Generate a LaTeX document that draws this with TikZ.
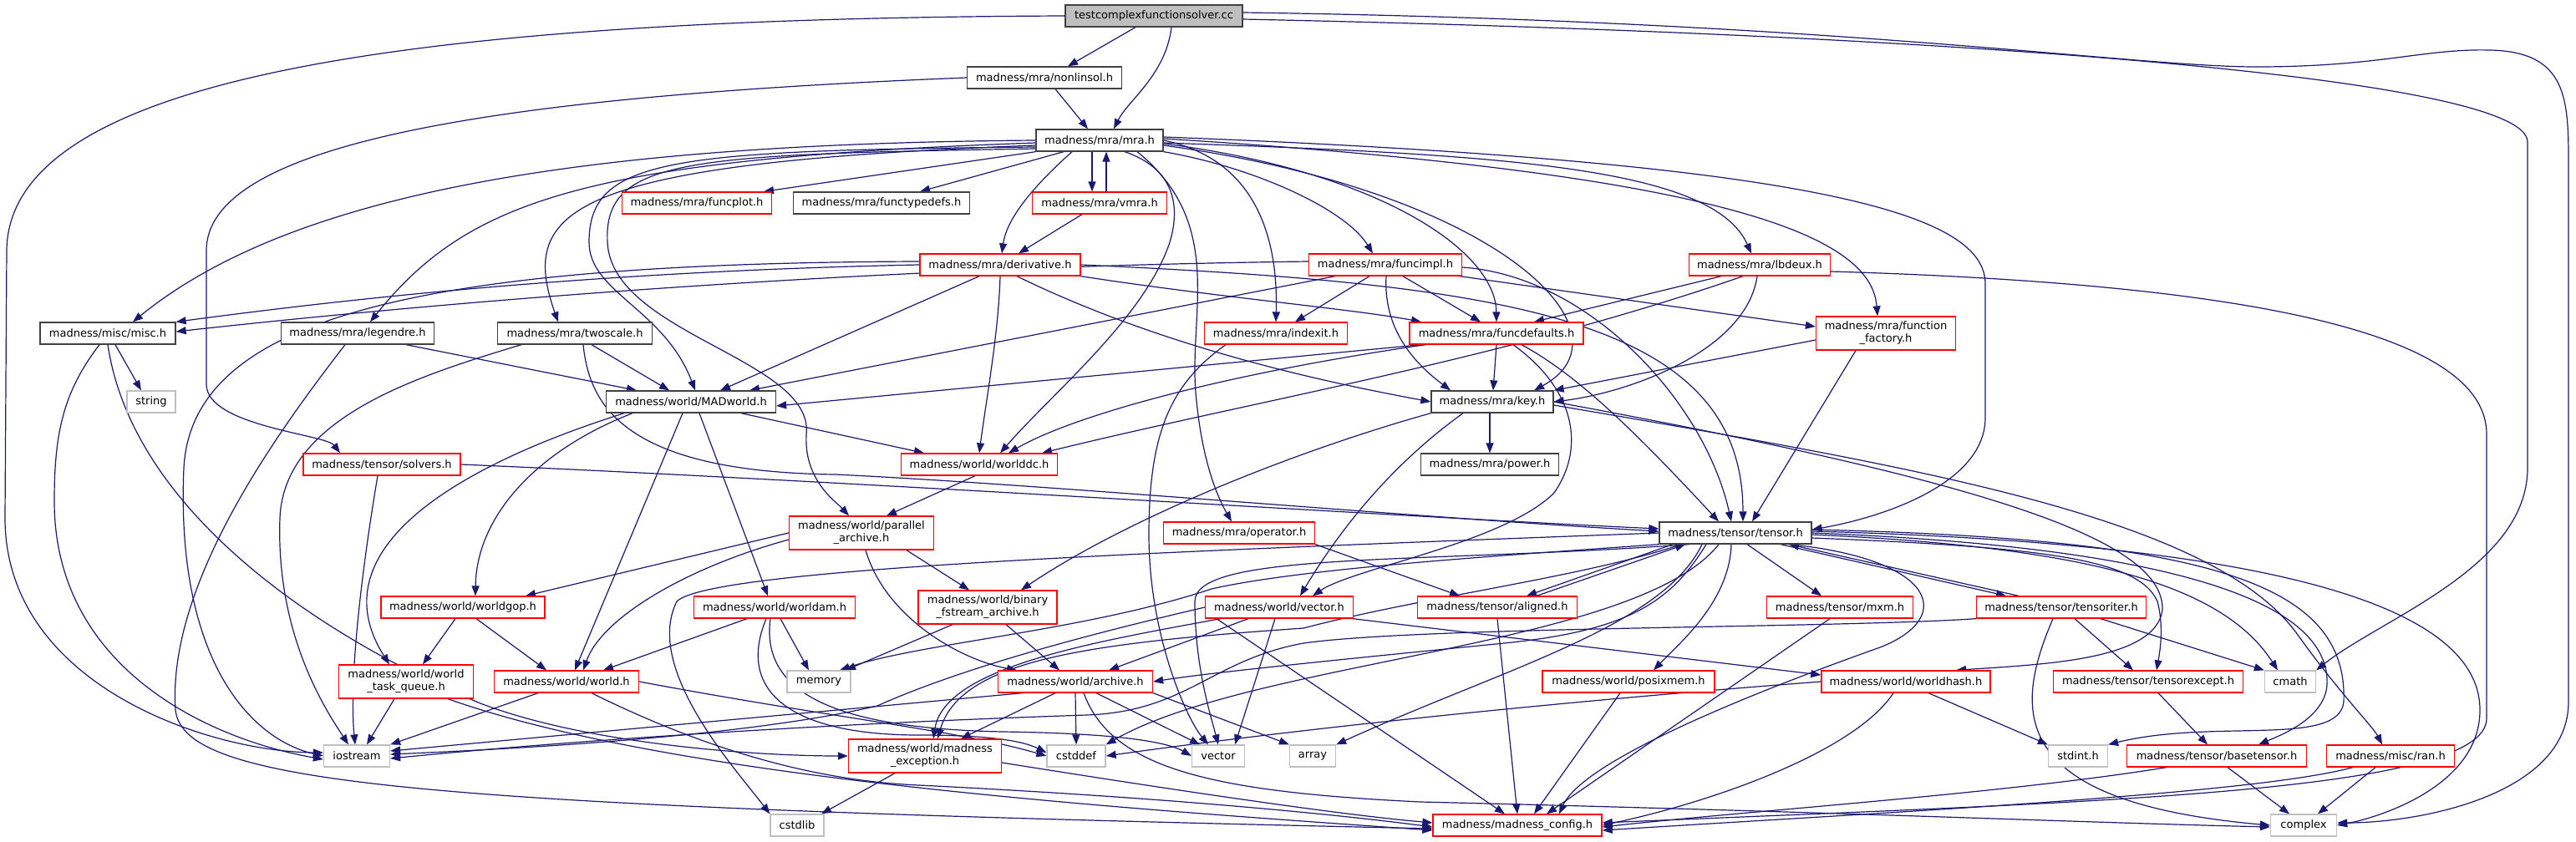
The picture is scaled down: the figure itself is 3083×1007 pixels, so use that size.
\documentclass[tikz,border=0pt]{standalone}
\usepackage{fontspec}
\newfontfamily\dvs{DejaVu Sans}
\usetikzlibrary{arrows.meta}
\pgfdeclarelayer{back}
\pgfdeclarelayer{bg}
\pgfsetlayers{back,bg,main}
\definecolor{edgec}{HTML}{191970}
\definecolor{redc}{HTML}{FF0000}
\definecolor{blkc}{HTML}{404040}
\definecolor{gryc}{HTML}{BFBFBF}
\begin{document}
\begin{tikzpicture}[x=1pt,y=-1pt,
  nb/.style={draw, rectangle, inner sep=0pt, minimum height=26pt, line width=1.3pt, font=\dvs\fontsize{13}{15}\selectfont, align=center, fill=white, text=black},
  rd/.style={nb, draw=redc},
  bk/.style={nb, draw=blkc},
  gy/.style={nb, draw=gryc},
  rt/.style={nb, draw=blkc, fill=gryc},
  wd/.style={minimum width=#1pt},
  tall/.style={minimum height=40pt},
  edg/.style={draw=edgec, line width=1.2pt, -{Triangle[length=12pt,width=9pt]}},
]
\useasboundingbox (0,0) rectangle (3083,1007);
\begin{pgfonlayer}{back}
\fill[white] (0,0) rectangle (3083,1007);
\end{pgfonlayer}

% ---------------- nodes ----------------
\node[rt,wd=212] (T) at (1381,19) {testcomplexfunctionsolver.cc};
\node[bk,wd=185] (nonlin) at (1250,93) {madness/mra/nonlinsol.h};
\node[bk,wd=152] (mra) at (1316,168) {madness/mra/mra.h};
\node[rd,wd=179] (funcplot) at (834,243) {madness/mra/funcplot.h};
\node[bk,wd=211] (functype) at (1055,243) {madness/mra/functypedefs.h};
\node[rd,wd=161] (vmra) at (1316,243) {madness/mra/vmra.h};
\node[rd,wd=192] (deriv) at (1197,317) {madness/mra/derivative.h};
\node[rd,wd=183] (funcimpl) at (1658,317) {madness/mra/funcimpl.h};
\node[rd,wd=169] (lbdeux) at (2106,317) {madness/mra/lbdeux.h};
\node[bk,wd=162] (misc) at (129,399) {madness/misc/misc.h};
\node[bk,wd=183] (legendre) at (428,399) {madness/mra/legendre.h};
\node[bk,wd=185] (twoscale) at (688,399) {madness/mra/twoscale.h};
\node[rd,wd=171] (indexit) at (1527,399) {madness/mra/indexit.h};
\node[rd,wd=208] (funcdef) at (1791,399) {madness/mra/funcdefaults.h};
\node[rd,wd=167,tall] (factory) at (2257,399) {madness/mra/function\\\_factory.h};
\node[gy,wd=58] (string) at (181,481) {string};
\node[bk,wd=203] (madworld) at (827,481) {madness/world/MADworld.h};
\node[bk,wd=146] (key) at (1786,481) {madness/mra/key.h};
\node[rd,wd=188] (solvers) at (457,556) {madness/tensor/solvers.h};
\node[rd,wd=187] (worlddc) at (1172,556) {madness/world/worlddc.h};
\node[bk,wd=165] (power) at (1783,556) {madness/mra/power.h};
\node[rd,wd=173,tall] (parallel) at (1031,638) {madness/world/parallel\\\_archive.h};
\node[rd,wd=181] (operator) at (1483,638) {madness/mra/operator.h};
\node[bk,wd=182] (tensor) at (2077,638) {madness/tensor/tensor.h};
\node[rd,wd=196] (worldgop) at (554,727) {madness/world/worldgop.h};
\node[rd,wd=193] (worldam) at (927,727) {madness/world/worldam.h};
\node[rd,wd=166,tall] (binary) at (1182,727) {madness/world/binary\\\_fstream\_archive.h};
\node[rd,wd=177] (wvector) at (1531,727) {madness/world/vector.h};
\node[rd,wd=191] (aligned) at (1792,727) {madness/tensor/aligned.h};
\node[rd,wd=175] (mxm) at (2202,727) {madness/tensor/mxm.h};
\node[rd,wd=203] (tensoriter) at (2467,727) {madness/tensor/tensoriter.h};
\node[rd,wd=161,tall] (taskq) at (486,816) {madness/world/world\\\_task\_queue.h};
\node[rd,wd=173] (world) at (678,816) {madness/world/world.h};
\node[gy,wd=76] (memory) at (980,816) {memory};
\node[rd,wd=185] (archive) at (1287,816) {madness/world/archive.h};
\node[rd,wd=206] (posixmem) at (1949,816) {madness/world/posixmem.h};
\node[rd,wd=202] (worldhash) at (2281,816) {madness/world/worldhash.h};
\node[rd,wd=227] (tensorexcept) at (2571,816) {madness/tensor/tensorexcept.h};
\node[gy,wd=61] (cmath) at (2741,816) {cmath};
\node[gy,wd=79] (iostream) at (427,905) {iostream};
\node[rd,wd=183,tall] (mexc) at (1107,905) {madness/world/madness\\\_exception.h};
\node[gy,wd=70] (cstddef) at (1288,905) {cstddef};
\node[gy,wd=63] (vector) at (1458,905) {vector};
\node[gy,wd=55] (array) at (1571,905) {array};
\node[gy,wd=71] (stdint) at (2487,905) {stdint.h};
\node[rd,wd=215] (basetensor) at (2653,905) {madness/tensor/basetensor.h};
\node[rd,wd=153] (ran) at (2861,905) {madness/misc/ran.h};
\node[gy,wd=64] (cstdlib) at (954,988) {cstdlib};
\node[rd,wd=202] (config) at (1816,988) {madness/madness\_config.h};
\node[gy,wd=79] (complex) at (2757,988) {complex};

% ---------------- edges ----------------
\begin{pgfonlayer}{bg}
% root
\draw[edg] ([xshift=-22pt]T.south) -- ([xshift=28pt]nonlin.north);
\draw[edg] ([xshift=21pt]T.south) .. controls (1395,90) and (1350,120) .. ([xshift=17pt]mra.north);
\draw[edg] (T.west) .. controls (500,22) and (10,90) .. (8,300) -- (6,620) .. controls (6,820) and (250,900) .. ([yshift=4pt]iostream.west);
\draw[edg] ([yshift=4pt]T.east) .. controls (2200,25) and (2550,80) .. (2700,80) .. controls (2850,80) and (2900,58) .. (2980,60) .. controls (3074,62) and (3074,120) .. (3074,200) -- (3074,840) .. controls (3074,950) and (2900,985) .. ([yshift=3pt]complex.east);
\draw[edg] ([yshift=-4pt]T.east) .. controls (2300,40) and (3025,90) .. (3025,170) -- (3025,560) .. controls (3025,680) and (2850,740) .. (cmath.north east);
% nonlinsol
\draw[edg] ([xshift=13pt]nonlin.south) -- ([xshift=-14pt]mra.north);
\draw[edg] (nonlin.west) .. controls (600,115) and (247,170) .. (247,300) -- (247,460) .. controls (247,510) and (390,520) .. ([xshift=-50pt]solvers.north);
% mra
\draw[edg] (mra.south west) -- ([xshift=80pt]funcplot.north);
\draw[edg] ([xshift=-43pt]mra.south) -- ([xshift=46pt]functype.north);
\draw[edg] ([xshift=-9pt]mra.south) -- ([xshift=-9pt]vmra.north);
\draw[edg] ([xshift=8pt]vmra.north) -- ([xshift=8pt]mra.south);
\draw[edg] ([xshift=-33pt]mra.south) .. controls (1240,220) and (1205,260) .. ([xshift=2pt]deriv.north);
\draw[edg] ([xshift=-21pt]vmra.south) -- ([xshift=22pt]deriv.north);
\draw[edg] (mra.south east) .. controls (1500,200) and (1610,250) .. ([xshift=-15pt]funcimpl.north);
\draw[edg] ([yshift=-3pt]mra.east) .. controls (1800,185) and (2050,200) .. ([xshift=-10pt]lbdeux.north);
\draw[edg] (mra.west) .. controls (700,172) and (350,230) .. ([xshift=30pt]misc.north);
\draw[edg] ([yshift=-3pt]mra.west) .. controls (700,190) and (560,240) .. ([xshift=15pt]legendre.north);
\draw[edg] ([yshift=-6pt]mra.west) .. controls (680,195) and (620,250) .. ([xshift=-20pt]twoscale.north);
\draw[edg] ([yshift=-8pt]mra.west) .. controls (800,180) and (705,190) .. (705,290) .. controls (705,350) and (795,370) .. ([xshift=5pt]madworld.north);
\draw[edg] ([yshift=-10pt]mra.west) .. controls (820,185) and (722,190) .. (727,290) .. controls (732,400) and (975,430) .. (965,520) .. controls (962,575) and (1000,600) .. ([xshift=-15pt]parallel.north);
\draw[edg] (mra.east) .. controls (1500,190) and (1530,280) .. (indexit.north);
\draw[edg] ([yshift=-4pt]mra.east) .. controls (1650,205) and (1790,300) .. (funcdef.north);
\draw[edg] ([yshift=2pt]mra.east) .. controls (2100,210) and (2240,290) .. ([xshift=-10pt]factory.north);
\draw[edg] ([yshift=-6pt]mra.east) .. controls (1800,230) and (1960,400) .. ([xshift=50pt]key.north);
\draw[edg] ([xshift=30pt]mra.south) .. controls (1400,200) and (1415,240) .. (1400,290) .. controls (1370,380) and (1260,470) .. ([xshift=25pt]worlddc.north);
\draw[edg] ([xshift=45pt]mra.south) .. controls (1470,270) and (1420,380) .. (1432,480) .. controls (1440,560) and (1460,600) .. ([xshift=-9pt]operator.north);
\draw[edg] ([yshift=4pt]mra.east) .. controls (2200,195) and (2376,260) .. (2376,340) -- (2376,500) .. controls (2376,580) and (2250,620) .. ([yshift=4pt]tensor.east);
% derivative
\draw[edg] (deriv.west) .. controls (700,325) and (400,360) .. (misc.north east);
\draw[edg] ([xshift=-25pt]deriv.south) -- ([xshift=35pt]madworld.north);
\draw[edg] (deriv.south) .. controls (1195,400) and (1180,480) .. (worlddc.north);
\draw[edg] ([xshift=20pt]deriv.south) .. controls (1400,420) and (1600,460) .. (key.west);
\draw[edg] (deriv.south east) .. controls (1450,355) and (1620,370) .. ([xshift=-90pt]funcdef.north);
\draw[edg] (deriv.east) .. controls (1800,340) and (2086,380) .. ([xshift=9pt]tensor.north);
\draw[edg] ([yshift=4pt]deriv.west) .. controls (500,315) and (230,380) .. (220,560) .. controls (210,790) and (300,885) .. (iostream.west);
% funcimpl
\draw[edg] ([yshift=4pt]funcimpl.west) .. controls (1000,320) and (500,365) .. ([yshift=2pt]misc.east);
\draw[edg] ([xshift=-60pt]funcimpl.south) -- ([xshift=70pt]madworld.north);
\draw[edg] ([xshift=-19pt]funcimpl.south) -- ([xshift=23pt]indexit.north);
\draw[edg] ([xshift=21pt]funcimpl.south) -- ([xshift=-19pt]funcdef.north);
\draw[edg] ([xshift=1pt]funcimpl.south) .. controls (1655,400) and (1700,440) .. ([xshift=-50pt]key.north);
\draw[edg] ([xshift=89pt]funcimpl.south) -- ([yshift=8pt]factory.west);
\draw[edg] ([yshift=-3pt]funcimpl.east) .. controls (1900,330) and (2040,480) .. ([xshift=-5pt]tensor.north);
% lbdeux
\draw[edg] ([xshift=-46pt]lbdeux.south) -- ([xshift=45pt]funcdef.north);
\draw[edg] ([xshift=-3pt]lbdeux.south) .. controls (2090,420) and (1950,470) .. (key.east);
\draw[edg] ([xshift=-20pt]lbdeux.south) .. controls (1800,430) and (1500,480) .. ([xshift=75pt]worlddc.north);
\draw[edg] ([yshift=-8pt]lbdeux.east) .. controls (2700,340) and (2976,400) .. (2976,520) -- (2976,860) .. controls (2976,950) and (2500,960) .. ([yshift=3pt]config.east);
% misc
\draw[edg] ([xshift=9pt]misc.south) -- ([xshift=-12pt]string.north);
\draw[edg] ([xshift=-10pt]misc.south) .. controls (75,470) and (65,520) .. (65,600) .. controls (65,800) and (250,885) .. ([yshift=-4pt]iostream.west);
\draw[edg] (misc.south) .. controls (160,620) and (400,770) .. (575,842) .. controls (700,890) and (900,905) .. (mexc.west);
% legendre
\draw[edg] ([xshift=58pt]legendre.south) -- ([xshift=-65pt]madworld.north);
\draw[edg] ([xshift=-15pt]legendre.south) .. controls (330,520) and (200,700) .. (210,850) .. controls (220,940) and (500,965) .. ([yshift=-4pt]config.west);
% twoscale
\draw[edg] ([xshift=20pt]twoscale.south) -- ([xshift=-26pt]madworld.north);
\draw[edg] ([xshift=10pt]twoscale.south) .. controls (705,480) and (740,565) .. (1000,568) .. controls (1250,580) and (1700,620) .. ([yshift=2pt]tensor.west);
\draw[edg] ([xshift=-64pt]twoscale.south) .. controls (500,450) and (340,500) .. (335,620) .. controls (330,760) and (390,850) .. ([xshift=-10pt]iostream.north);
% indexit
\draw[edg] ([xshift=-60pt]indexit.south) .. controls (1400,460) and (1375,520) .. (1375,640) .. controls (1375,760) and (1420,860) .. ([xshift=-12pt]vector.north);
% funcdefaults
\draw[edg] ([xshift=-90pt]funcdef.south) -- ([yshift=-5pt]madworld.east);
\draw[edg] ([xshift=-85pt]funcdef.south) .. controls (1450,450) and (1280,500) .. ([xshift=35pt]worlddc.north);
\draw[edg] (funcdef.south) -- ([xshift=1pt]key.north);
\draw[edg] ([xshift=30pt]funcdef.south) .. controls (1890,450) and (1960,520) .. ([xshift=-20pt]tensor.north);
\draw[edg] ([xshift=20pt]funcdef.south) .. controls (1890,470) and (1895,540) .. (1860,590) .. controls (1800,650) and (1620,680) .. ([xshift=40pt]wvector.north);
% function_factory
\draw[edg] ([yshift=-8pt]factory.west) -- (key.north east);
\draw[edg] ([xshift=-36pt]factory.south) -- ([xshift=20pt]tensor.north);
% MADworld
\draw[edg] ([xshift=60pt]madworld.south) -- ([xshift=-66pt]worlddc.north);
\draw[edg] ([xshift=-80pt]madworld.south) .. controls (540,560) and (380,660) .. ([xshift=-20pt]taskq.north);
\draw[edg] ([xshift=-70pt]madworld.south) .. controls (640,540) and (570,620) .. ([xshift=15pt]worldgop.north);
\draw[edg] ([xshift=-10pt]madworld.south) -- ([xshift=10pt]world.north);
\draw[edg] ([xshift=10pt]madworld.south) -- ([xshift=-8pt]worldam.north);
% solvers
\draw[edg] (solvers.east) .. controls (1000,575) and (1700,620) .. ([yshift=5pt]tensor.west);
\draw[edg] ([xshift=-5pt]solvers.south) .. controls (430,700) and (418,820) .. ([xshift=-2pt]iostream.north);
% worlddc
\draw[edg] ([xshift=-5pt]worlddc.south) -- ([xshift=30pt]parallel.north);
% key
\draw[edg] ([xshift=-3pt]key.south) -- (power.north);
\draw[edg] ([xshift=-35pt]key.south) .. controls (1660,560) and (1600,640) .. ([xshift=25pt]wvector.north);
\draw[edg] (key.south west) .. controls (1550,540) and (1350,620) .. ([xshift=40pt]binary.north);
\draw[edg] ([yshift=-4pt]key.east) .. controls (2300,560) and (2650,620) .. (2750,760) .. controls (2800,830) and (2840,870) .. ([xshift=-10pt]ran.north);
\draw[edg] (key.east) .. controls (2400,580) and (2590,650) .. (2588,730) .. controls (2580,790) and (2450,795) .. ([xshift=60pt]worldhash.north);
% tensor
\draw[edg] ([xshift=-75pt]tensor.south) -- ([xshift=35pt]aligned.north);
\draw[edg] ([xshift=47pt]aligned.north) -- ([xshift=-60pt]tensor.south);
\draw[edg] ([xshift=14pt]tensor.south) -- ([xshift=-22pt]mxm.north);
\draw[edg] ([xshift=54pt]tensor.south) -- ([xshift=-66pt]tensoriter.north);
\draw[edg] ([xshift=-51pt]tensoriter.north) -- ([xshift=64pt]tensor.south);
\draw[edg] ([xshift=-5pt]tensor.south) .. controls (2070,720) and (2010,770) .. ([xshift=30pt]posixmem.north);
\draw[edg] ([yshift=-6pt]tensor.east) .. controls (2450,655) and (2560,670) .. (2582,720) .. controls (2590,750) and (2585,780) .. ([xshift=10pt]tensorexcept.north);
\draw[edg] ([yshift=-2pt]tensor.east) .. controls (2500,655) and (2660,700) .. ([xshift=-15pt]cmath.north);
\draw[edg] ([yshift=2pt]tensor.east) .. controls (2700,650) and (2968,720) .. (2968,850) .. controls (2968,940) and (2850,978) .. (complex.east);
\draw[edg] (tensor.east) .. controls (2600,655) and (2790,720) .. (2785,820) .. controls (2782,860) and (2730,880) .. ([xshift=50pt]basetensor.north);
\draw[edg] ([yshift=4pt]tensor.east) .. controls (2650,645) and (2810,700) .. (2805,840) .. controls (2800,895) and (2650,860) .. (stdint.north east);
\draw[edg] ([xshift=65pt]tensor.south) .. controls (2320,670) and (2340,740) .. (2250,775) .. controls (2180,800) and (1900,900) .. ([xshift=50pt]config.north);
\draw[edg] ([xshift=-35pt]tensor.south) .. controls (2000,720) and (1950,755) .. (1800,770) .. controls (1600,790) and (1450,805) .. (archive.east);
\draw[edg] (tensor.south west) .. controls (1800,665) and (1560,680) .. (1450,705) .. controls (1300,755) and (1100,770) .. ([xshift=25pt]memory.north);
\draw[edg] ([xshift=-65pt]tensor.south) .. controls (1900,690) and (1700,715) .. (1560,752) .. controls (1300,770) and (1150,790) .. ([xshift=15pt]mexc.north);
\draw[edg] ([xshift=-20pt]tensor.south) .. controls (1960,775) and (1500,790) .. (cstddef.north east);
\draw[edg] ([xshift=-55pt]tensor.south) .. controls (1700,675) and (1430,660) .. (1430,720) .. controls (1430,800) and (1450,860) .. (vector.north);
\draw[edg] ([xshift=-40pt]tensor.south) .. controls (1990,750) and (1800,800) .. (array.north east);
\draw[edg] (tensor.west) .. controls (1400,660) and (850,680) .. (810,720) .. controls (770,800) and (880,920) .. (cstdlib.north west);
% tensoriter
\draw[edg] ([xshift=16pt]tensoriter.south) -- ([xshift=-18pt]tensorexcept.north);
\draw[edg] ([xshift=47pt]tensoriter.south) -- (cmath.north west);
\draw[edg] ([xshift=-10pt]tensoriter.south) .. controls (2410,850) and (2400,960) .. (complex.west);
\draw[edg] (tensoriter.south west) .. controls (2200,752) and (1700,750) .. (1560,770) .. controls (1450,790) and (1420,852) .. (1300,856) .. controls (1000,866) and (700,885) .. ([yshift=-3pt]iostream.east);
% world/vector.h
\draw[edg] ([xshift=88pt]wvector.south) -- ([yshift=8pt]worldhash.west);
\draw[edg] ([xshift=-37pt]wvector.south) -- ([xshift=40pt]archive.north);
\draw[edg] ([xshift=-5pt]wvector.south) -- ([xshift=20pt]vector.north);
\draw[edg] ([xshift=-70pt]wvector.south) .. controls (1300,770) and (1130,800) .. ([xshift=10pt]mexc.north);
\draw[edg] (wvector.west) .. controls (1300,760) and (1150,800) .. (1050,845) .. controls (900,880) and (650,895) .. ([yshift=2pt]iostream.east);
\draw[edg] ([xshift=-75pt]wvector.south) -- ([xshift=-15pt]config.north);
% aligned, operator, posixmem, mxm
\draw[edg] (aligned.south) -- (config.north);
\draw[edg] (operator.south east) -- ([xshift=-45pt]aligned.north);
\draw[edg] ([xshift=-10pt]posixmem.south) -- ([xshift=20pt]config.north);
\draw[edg] ([xshift=-12pt]mxm.south) -- ([xshift=35pt]config.north);
% archive
\draw[edg] ([xshift=-63pt]archive.south) -- ([yshift=6pt]iostream.east);
\draw[edg] ([xshift=-24pt]archive.south) -- ([xshift=43pt]mexc.north);
\draw[edg] (archive.south) -- (cstddef.north);
\draw[edg] ([xshift=25pt]archive.south) -- ([xshift=-22pt]vector.north);
\draw[edg] (archive.south east) -- (array.north west);
\draw[edg] ([xshift=10pt]archive.south) .. controls (1330,920) and (1450,948) .. (1700,960) .. controls (2200,972) and (2500,985) .. ([yshift=-2pt]complex.west);
% madness_exception
\draw[edg] ([xshift=-36pt]mexc.south) -- ([xshift=29pt]cstdlib.north);
\draw[edg] ([yshift=-8pt]mexc.east) .. controls (1400,945) and (1600,975) .. ([yshift=3pt]config.west);
% world.h, task_queue, worldgop, worldam
\draw[edg] ([xshift=-34pt]world.south) -- (iostream.north east);
\draw[edg] ([xshift=30pt]world.south) .. controls (850,900) and (980,935) .. (1100,940) .. controls (1400,955) and (1600,975) .. ([yshift=-2pt]config.west);
\draw[edg] (world.east) .. controls (1000,860) and (1150,875) .. (cstddef.west);
\draw[edg] ([xshift=-14pt]taskq.south) -- ([xshift=12pt]iostream.north);
\draw[edg] ([xshift=50pt]taskq.south) .. controls (800,930) and (1300,965) .. ([yshift=-6pt]config.west);
\draw[edg] ([xshift=-9pt]worldgop.south) -- ([xshift=20pt]taskq.north);
\draw[edg] ([xshift=16pt]worldgop.south) -- ([xshift=-24pt]world.north);
\draw[edg] ([xshift=-33pt]worldam.south) -- ([xshift=44pt]world.north);
\draw[edg] ([xshift=7pt]worldam.south) -- ([xshift=-12pt]memory.north);
\draw[edg] ([xshift=-10pt]worldam.south) .. controls (880,830) and (950,880) .. (1100,880) .. controls (1200,880) and (1230,890) .. ([yshift=4pt]cstddef.west);
\draw[edg] ([xshift=-5pt]worldam.south) .. controls (910,830) and (1000,872) .. (1200,876) .. controls (1350,878) and (1400,890) .. (vector.west);
% binary, parallel
\draw[edg] ([xshift=-42pt]binary.south) -- ([xshift=32pt]memory.north);
\draw[edg] ([xshift=22pt]binary.south) -- ([xshift=-19pt]archive.north);
\draw[edg] (parallel.west) -- ([xshift=75pt]worldgop.north);
\draw[edg] ([yshift=-8pt]parallel.west) .. controls (820,680) and (720,740) .. ([xshift=20pt]world.north);
\draw[edg] ([xshift=5pt]parallel.south) .. controls (1060,740) and (1150,790) .. ([xshift=-70pt]archive.north);
\draw[edg] ([xshift=54pt]parallel.south) -- ([xshift=-22pt]binary.north);
% worldhash
\draw[edg] ([xshift=27pt]worldhash.south) -- (stdint.north west);
\draw[edg] ([xshift=-15pt]worldhash.south) .. controls (2220,900) and (2050,960) .. (config.east);
\draw[edg] (worldhash.west) .. controls (1800,845) and (1500,880) .. (cstddef.east);
% tensorexcept, basetensor, ran
\draw[edg] ([xshift=12pt]tensorexcept.south) -- ([xshift=-11pt]basetensor.north);
\draw[edg] ([xshift=13pt]basetensor.south) -- ([xshift=-17pt]complex.north);
\draw[edg] ([xshift=-60pt]basetensor.south) .. controls (2400,950) and (2100,970) .. ([yshift=-2pt]config.east);
\draw[edg] ([xshift=-18pt]ran.south) -- ([xshift=17pt]complex.north);
\draw[edg] ([xshift=-45pt]ran.south) .. controls (2700,950) and (2300,970) .. ([yshift=-6pt]config.east);
\end{pgfonlayer}
\end{tikzpicture}
\end{document}
